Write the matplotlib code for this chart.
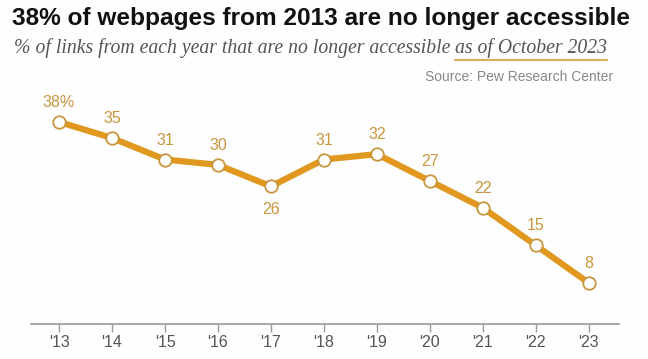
import matplotlib
matplotlib.use("Agg")
import matplotlib.pyplot as plt

years = [2013, 2014, 2015, 2016, 2017, 2018, 2019, 2020, 2021, 2022, 2023]
values = [38, 35, 31, 30, 26, 31, 32, 27, 22, 15, 8]
labels = ["38%", "35", "31", "30", "26", "31", "32", "27", "22", "15", "8"]
below = [False, False, False, False, True, False, False, False, False, False, False]
tick_labels = ["'13", "'14", "'15", "'16", "'17", "'18", "'19", "'20", "'21", "'22", "'23"]

line_color = "#E0981E"
label_color = "#C8963E"

fig = plt.figure(figsize=(6.48, 3.59), dpi=100)
fig.patch.set_facecolor("#FEFEFE")
ax = fig.add_axes([31/648, 35/359, 588/648, 241.5/359])
ax.set_facecolor("none")

ax.plot(years, values, color=line_color, lw=4.5, solid_capstyle="round", zorder=2)
ax.plot(years, values, ls="none", marker="o", ms=9, mfc="white", mec=label_color, mew=1.3, zorder=3)

for x, v, lab, b in zip(years, values, labels, below):
    off = -17 if b else 14
    ax.annotate(lab, (x, v), xytext=(0, off), textcoords="offset points",
                ha="center", va="center", fontsize=11.5, color=label_color,
                family="Liberation Sans")

ax.set_xlim(2012.47, 2023.57)
ax.set_ylim(0.35, 45.35)
ax.set_xticks(years)
ax.set_xticklabels(tick_labels, fontsize=11.5, color="#555555", family="Liberation Sans")
ax.set_yticks([])
for s in ["top", "right", "left"]:
    ax.spines[s].set_visible(False)
ax.spines["bottom"].set_color("#9A9A9A")
ax.spines["bottom"].set_linewidth(1.2)
ax.tick_params(axis="x", direction="out", length=6, color="#9A9A9A", width=1, pad=2)

fig.text(12/648, 1 - 18/359, "38% of webpages from 2013 are no longer accessible",
         fontsize=17.6, fontweight="bold", color="#111111", family="Liberation Sans",
         ha="left", va="center")
t1 = fig.text(14/648, 1 - 48/359, "% of links from each year that are no longer accessible ",
              fontsize=14.2, style="italic", color="#555555", family="Liberation Serif",
              ha="left", va="center")
fig.canvas.draw()
r = fig.canvas.get_renderer()
bb = t1.get_window_extent(r)
x2 = bb.x1 / fig.bbox.width
t2 = fig.text(x2, 1 - 48/359, "as of October 2023",
              fontsize=14.2, style="italic", color="#555555", family="Liberation Serif",
              ha="left", va="center")
bb2 = t2.get_window_extent(r)
x0u = bb2.x0 / fig.bbox.width
x1u = bb2.x1 / fig.bbox.width
yu = 1 - 60/359
fig.add_artist(plt.Line2D([x0u, x1u], [yu, yu], color="#D4A64A", lw=1.3, transform=fig.transFigure))

fig.text(613/648, 1 - 77/359, "Source: Pew Research Center", fontsize=10, color="#888888",
         family="Liberation Sans", ha="right", va="center")

fig.savefig("out.png", dpi=100)
